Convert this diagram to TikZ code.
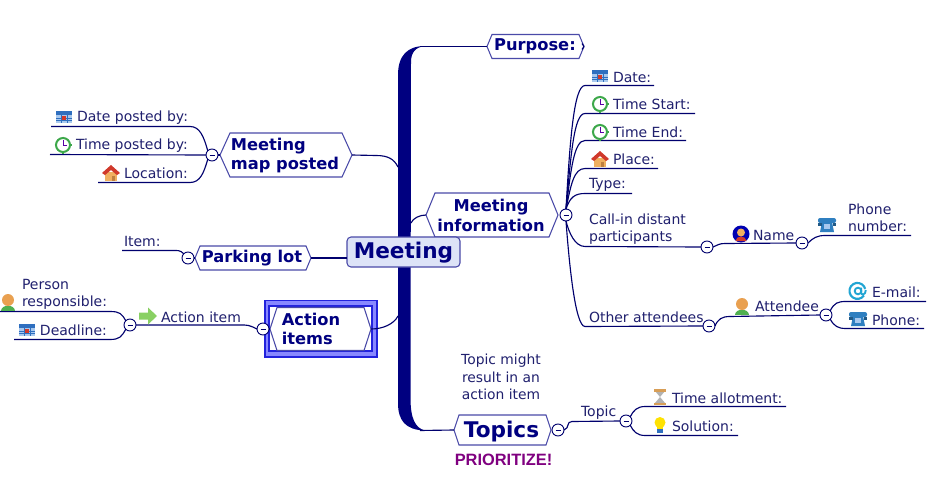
\documentclass[tikz,border=0pt]{standalone}
\usepackage{fontspec}
\setmainfont{DejaVu Sans}
\newfontfamily\prifont{Liberation Sans}
\definecolor{navy}{HTML}{000080}
\definecolor{deep}{HTML}{00006E}
\definecolor{small}{HTML}{20206E}
\definecolor{hexline}{HTML}{4A4AA8}
\definecolor{centerfill}{HTML}{DDE3F7}
\definecolor{band}{HTML}{8888FF}
\definecolor{bandline}{HTML}{2222DD}
\definecolor{prp}{HTML}{800080}
\definecolor{calblue}{HTML}{2F6FBF}
\definecolor{callight}{HTML}{A8C8EE}
\definecolor{clockg}{HTML}{3DA84A}
\definecolor{roof}{HTML}{D0392B}
\definecolor{wall}{HTML}{F0B060}
\definecolor{skin}{HTML}{E9A050}
\definecolor{shirt}{HTML}{50B050}
\definecolor{phoneb}{HTML}{2F7FC0}
\tikzset{
  conn/.style={draw=deep,line width=0.85pt},
  lab/.style={anchor=west,inner sep=0pt,outer sep=0pt,text=small,font=\fontsize{10.5pt}{12.6pt}\selectfont,align=left},
  notelab/.style={inner sep=0pt,outer sep=0pt,text=small,font=\fontsize{10.4pt}{12.9pt}\selectfont,align=center},
  hexbase/.style={inner sep=0pt,outer sep=0pt},
  hexedge/.style={draw=hexline,line width=0.8pt,fill=white},
  toptext/.style={inner sep=0pt,outer sep=0pt,text=navy,font=\bfseries\fontsize{12.2pt}{14.8pt}\selectfont,align=left},
  toggle/.style={circle,draw=deep,fill=white,line width=0.7pt,minimum size=9pt,inner sep=0pt,outer sep=0pt},
  pics/calicon/.style={code={
    \fill[callight] (-8,-6) rectangle (8,6);
    \fill[calblue] (-8,-6) rectangle (8,-2);
    \draw[calblue,line width=0.25pt] (-8,1) -- (8,1) (-8,3.5) -- (8,3.5) (-3,-2) -- (-3,6) (3,-2) -- (3,6);
    \fill[roof] (-2,-1) rectangle (2,3);
  }},
  pics/clockicon/.style={code={
    \draw[clockg,fill=white,line width=1.5pt] (0,0) circle (7);
    \draw[clockg,line width=1.8pt] (0,-8.5) -- (0,-6) (0,8.5) -- (0,6) (-8.5,0) -- (-6,0) (8.5,0) -- (6,0);
    \draw[violet!70!blue,line width=0.7pt] (0,-5) -- (0,0) -- (4,0);
  }},
  pics/houseicon/.style={code={
    \fill[wall] (-6,-1) rectangle (6,8);
    \fill[roof] (-9,0) -- (0,-8) -- (9,0) -- (6,2) -- (0,-3) -- (-6,2) -- cycle;
    \fill[brown] (1,3) rectangle (4,8);
  }},
  pics/personicon/.style={code={
    \fill[shirt] (-7,8.5) .. controls (-7,2) and (7,2) .. (7,8.5) -- cycle;
    \fill[skin] (0,-2) circle (6);
  }},
  pics/faceicon/.style={code={
    \fill[blue!70!black] (0,0) circle (8.5);
    \fill[roof] (-5.5,7) .. controls (-5,1) and (5,1) .. (5.5,7) -- cycle;
    \fill[wall] (0,-1.5) circle (4);
  }},
  pics/phoneicon/.style={code={
    \fill[phoneb] (-5,-3) -- (5,-3) -- (7,7) -- (-7,7) -- cycle;
    \fill[phoneb,rounded corners=1.5pt] (-9,-7) rectangle (9,-2);
    \fill[phoneb!70!black] (-9,-2.5) rectangle (-5.5,0.5);
    \fill[phoneb!70!black] (5.5,-2.5) rectangle (9,0.5);
    \fill[callight] (-3,-1) rectangle (3,4);
  }},
  pics/aticon/.style={code={
    \draw[phoneb!70!cyan,line width=1.6pt] (6,4.5) arc[start angle=35,end angle=345,radius=8];
    \draw[phoneb!70!cyan,line width=1.4pt] (0,0) circle (3.3);
    \draw[phoneb!70!cyan,line width=1.4pt] (3.3,-3.5) -- (3.3,2) .. controls (3.3,4.5) and (7.8,4) .. (7.8,-1);
  }},
  pics/arrowicon/.style={code={
    \fill[shirt!75!lime!80!white] (-9,-3.5) -- (0,-3.5) -- (0,-8.5) -- (9,0) -- (0,8.5) -- (0,3.5) -- (-9,3.5) -- cycle;
  }},
  pics/glassicon/.style={code={
    \fill[black!30] (-5,-6) -- (5,-6) -- (0,0) -- (5,6) -- (-5,6) -- (0,0) -- cycle;
    \fill[wall!90!black] (-6,-8) rectangle (6,-5.5);
    \fill[wall!90!black] (-6,5.5) rectangle (6,8);
  }},
  pics/bulbicon/.style={code={
    \fill[yellow!85!orange] (0,-2.5) circle (5.5);
    \fill[yellow!85!orange] (-3,0) rectangle (3,4);
    \fill[calblue] (-3,4) rectangle (3,8);
  }},
}
% #1 name, #2 cx, #3 cy, #4 half width, #5 half height, #6 inset
\newcommand{\hexnode}[6]{%
  \node[hexbase,minimum width={2*#4*0.75pt},minimum height={2*#5*0.75pt}] (#1) at (#2,#3) {};
  \draw[hexedge] (#1.west) -- ++(#6,-#5) -- ++({2*#4-2*#6},0) -- ++(#6,#5) -- ++(-#6,#5) -- ++({-(2*#4-2*#6)},0) -- cycle;
}
\begin{document}
\begin{tikzpicture}[x=0.75pt,y=-0.75pt]
\useasboundingbox (0,0) rectangle (933,489);
\fill[white] (0,0) rectangle (933,489);

% trunk
\fill[navy] (425,46) .. controls (408,46) and (398,55) .. (398,75) -- (398,403)
  .. controls (398,420) and (405,430) .. (425,430.5)
  .. controls (415,428) and (410.5,418) .. (410.5,398) -- (411,62)
  .. controls (411,52) and (416,47) .. (425,46) -- cycle;
\coordinate (trA) at (420,46.5);
\coordinate (trB) at (398,167);
\coordinate (trC) at (411,223);
\coordinate (trD) at (398,316);
\coordinate (trE) at (420,430.5);

% shapes
\hexnode{purpose}{535.5}{46.5}{48.5}{12}{5}
\hexnode{info}{492}{215}{66}{22}{9}
\hexnode{posted}{286}{155}{66}{22}{10}
\hexnode{parking}{253}{258}{58}{12}{5}
\draw[band,line width=0pt,fill=band] (265,300.5) rectangle (377,357);
\draw[bandline,line width=0.8pt] (265,300.5) rectangle (377,357);
\node[draw=bandline,fill=white,line width=0.8pt,inner sep=0pt,outer sep=0pt,minimum width={103*0.75pt},minimum height={45*0.75pt}] (frame) at (320.5,328.5) {};
\hexnode{action}{320.5}{329}{50.5}{21.5}{7}
\hexnode{topics}{502.5}{430}{48.5}{15}{5}

\draw[conn] (trA) -- (purpose.west);
\draw[conn] (purpose.east) -- ++(-2,-3) (purpose.east) -- ++(-2,3);
\draw[conn] (trB) .. controls +(-4,-8) and +(12,0) .. (376,155.5) -- (posted.east);
\draw[conn] (trC) .. controls +(2,-5) and +(-6,0) .. (info.west);
\draw[conn] (trD) .. controls +(-4,8) and +(12,0) .. (action.east);
\draw[conn] (trE) -- (topics.west);

% central node
\node[draw=hexline,fill=centerfill,rounded corners=3pt,line width=0.8pt,inner sep=0pt,outer sep=0pt,minimum width={113*0.75pt},minimum height={30*0.75pt}] (center) at (403.5,252) {};
\node[inner sep=0pt,outer sep=0pt,text=navy,font=\bfseries\fontsize{16.2pt}{18pt}\selectfont] (tcenter) at (403.5,253) {Meeting};
\draw[conn] (center.west |- parking.east) -- (parking.east);

% hexagon texts
\node[toptext] (tpurpose) at (535,46.5) {Purpose:};
\node[toptext,align=center] (tinfo) at (491,215.5) {Meeting\\information};
\node[toptext] (tposted) at (285,155.5) {Meeting\\map posted};
\node[toptext] (tparking) at (252,258.5) {Parking lot};
\node[toptext] (taction) at (311,329) {Action\\items};
\node[toptext,font=\bfseries\fontsize{16.2pt}{18pt}\selectfont] (ttopics) at (501.5,432) {Topics};

% toggles
\node[toggle] (tgInfo) at (566,215) {};
\node[toggle] (tgCall) at (707,247) {};
\node[toggle] (tgName) at (802,243) {};
\node[toggle] (tgOther) at (709,326) {};
\node[toggle] (tgAtt) at (826,315) {};
\node[toggle] (tgPosted) at (212,155) {};
\node[toggle] (tgPark) at (188,258) {};
\node[toggle] (tgAction) at (263,329) {};
\node[toggle] (tgItem) at (130,325) {};
\node[toggle] (tgTopics) at (558,430) {};
\node[toggle] (tgTopic) at (626,421) {};
\foreach \t in {tgInfo,tgCall,tgName,tgOther,tgAtt,tgPosted,tgPark,tgAction,tgItem,tgTopics,tgTopic}
  \draw[deep,line width=0.7pt] (\t.center) ++(-2.5,0) -- ++(5,0);

% free line ends
\coordinate (eDate) at (654,85.5);
\coordinate (eStart) at (695,113.5);
\coordinate (eEnd) at (686,140.5);
\coordinate (ePlace) at (658,168.5);
\coordinate (eType) at (632,193.5);
\coordinate (ePhoneNum) at (911,235.5);
\coordinate (eMail) at (926,301.5);
\coordinate (ePhone) at (924,328.5);
\coordinate (eAllot) at (786,406.5);
\coordinate (eSol) at (738,435.5);
\coordinate (eDP) at (51,126.5);
\coordinate (eTP) at (50,154.5);
\coordinate (eLoc) at (98,182.5);
\coordinate (eIt) at (122,250.5);
\coordinate (ePR) at (0,311.5);
\coordinate (eDl) at (14,339.5);

% right-hand fan
\draw[conn] (tgInfo.north) .. controls +(4,-70) and +(-11,0) .. (585,85.5) -- (eDate);
\draw[conn] (tgInfo.north) .. controls +(5,-55) and +(-11,0) .. (585,113.5) -- (eStart);
\draw[conn] (tgInfo.north) .. controls +(5,-40) and +(-11,0) .. (585,140.5) -- (eEnd);
\draw[conn] (tgInfo.north) .. controls +(5,-25) and +(-11,0) .. (585,168.5) -- (ePlace);
\draw[conn] (tgInfo.north) .. controls +(4,-12) and +(-10,0) .. (585,193.5) -- (eType);
\draw[conn] (tgInfo.south) .. controls +(3,12) and +(-10,0) .. (585,246.5) -- (tgCall.west);
\draw[conn] (tgInfo.south) .. controls +(3,40) and +(-10,0) .. (585,326.5) -- (tgOther.west);
\draw[conn] (tgCall.east) .. controls +(5,-2) and +(-6,0) .. (725,243.5) -- (tgName.west);
\draw[conn] (tgName.east) .. controls +(5,-5) and +(-8,0) .. (825,235.5) -- (ePhoneNum);
\draw[conn] (tgOther.east) .. controls +(3,-7) and +(-8,0) .. (730,316.5) -- (tgAtt.west);
\draw[conn] (tgAtt.north east) .. controls +(4,-8) and +(-8,0) .. (846,301.5) -- (eMail);
\draw[conn] (tgAtt.south east) .. controls +(4,7) and +(-8,0) .. (846,328.5) -- (ePhone);
\draw[conn] (tgTopics.east) .. controls +(6,-2) and +(-6,-0) .. (572,421.5) -- (tgTopic.west);
\draw[conn] (tgTopic.north east) .. controls +(3,-6) and +(-8,0) .. (645,406.5) -- (eAllot);
\draw[conn] (tgTopic.south east) .. controls +(3,6) and +(-8,0) .. (645,435.5) -- (eSol);

% left-hand side
\draw[conn] (tgPosted.east) -- (posted.west);
\draw[conn] (tgPark.east) -- (parking.west);
\draw[conn] (tgAction.east) -- (action.west);
\draw[conn] (tgPosted.north west) .. controls +(-4,-14) and +(10,0) .. (190,126.5) -- (eDP);
\draw[conn] (tgPosted.west) -- (eTP);
\draw[conn] (tgPosted.south west) .. controls +(-4,14) and +(10,0) .. (190,182.5) -- (eLoc);
\draw[conn] (tgPark.north west) .. controls +(-4,-4) and +(8,0) .. (170,250.5) -- (eIt);
\draw[conn] (tgAction.west) .. controls +(-8,-4) and +(8,0) .. (240,325) -- (tgItem.east);
\draw[conn] (tgItem.north west) .. controls +(-4,-7) and +(10,0) .. (110,311.5) -- (ePR);
\draw[conn] (tgItem.south west) .. controls +(-4,7) and +(10,0) .. (110,339.5) -- (eDl);

% labels, right
\node[lab] (lDate) at (613,77) {Date:};
\node[lab] (lStart) at (613,104.5) {Time Start:};
\node[lab] (lEnd) at (613,132) {Time End:};
\node[lab] (lPlace) at (613,159.5) {Place:};
\node[lab] (lType) at (589,185) {Type:};
\node[lab] (lCall) at (589,229.5) {Call-in distant\\participants};
\node[lab] (lName) at (753,235) {Name};
\node[lab] (lNum) at (848,218) {Phone\\number:};
\node[lab] (lOther) at (589,317) {Other attendees};
\node[lab] (lAtt) at (755,306.5) {Attendee};
\node[lab] (lMail) at (872,292.5) {E-mail:};
\node[lab] (lPh) at (872,320) {Phone:};
\node[lab] (lTopic) at (581,412.5) {Topic};
\node[lab] (lAllot) at (672,398) {Time allotment:};
\node[lab] (lSol) at (672,426) {Solution:};
% labels, left
\node[lab] (lDP) at (77,118) {Date posted by:};
\node[lab] (lTP) at (76,145.5) {Time posted by:};
\node[lab] (lLoc) at (124,173.5) {Location:};
\node[lab] (lIt) at (124,241.5) {Item:};
\node[lab] (lPR) at (22,294.5) {Person\\responsible:};
\node[lab] (lDl) at (40,330.5) {Deadline:};
\node[lab] (lAI) at (161,317.5) {Action item};
\node[notelab] (note) at (501,377) {Topic might\\result in an\\action item};
\node[inner sep=0pt,text=prp,font=\prifont\bfseries\fontsize{12.3pt}{14pt}\selectfont] (prio) at (503.5,460) {PRIORITIZE!};

% icons
\pic at (600,76) {calicon};
\pic at (600,104) {clockicon};
\pic at (600,132) {clockicon};
\pic at (600,159) {houseicon};
\pic at (741,234) {faceicon};
\pic at (827,225) {phoneicon};
\pic at (742,306) {personicon};
\pic at (858,291) {aticon};
\pic at (858,319) {phoneicon};
\pic at (660,397) {glassicon};
\pic at (660,425) {bulbicon};
\pic at (64,117) {calicon};
\pic at (63,145) {clockicon};
\pic at (111,173) {houseicon};
\pic at (8,302) {personicon};
\pic at (27,330) {calicon};
\pic at (148,316) {arrowicon};
\end{tikzpicture}
\end{document}
